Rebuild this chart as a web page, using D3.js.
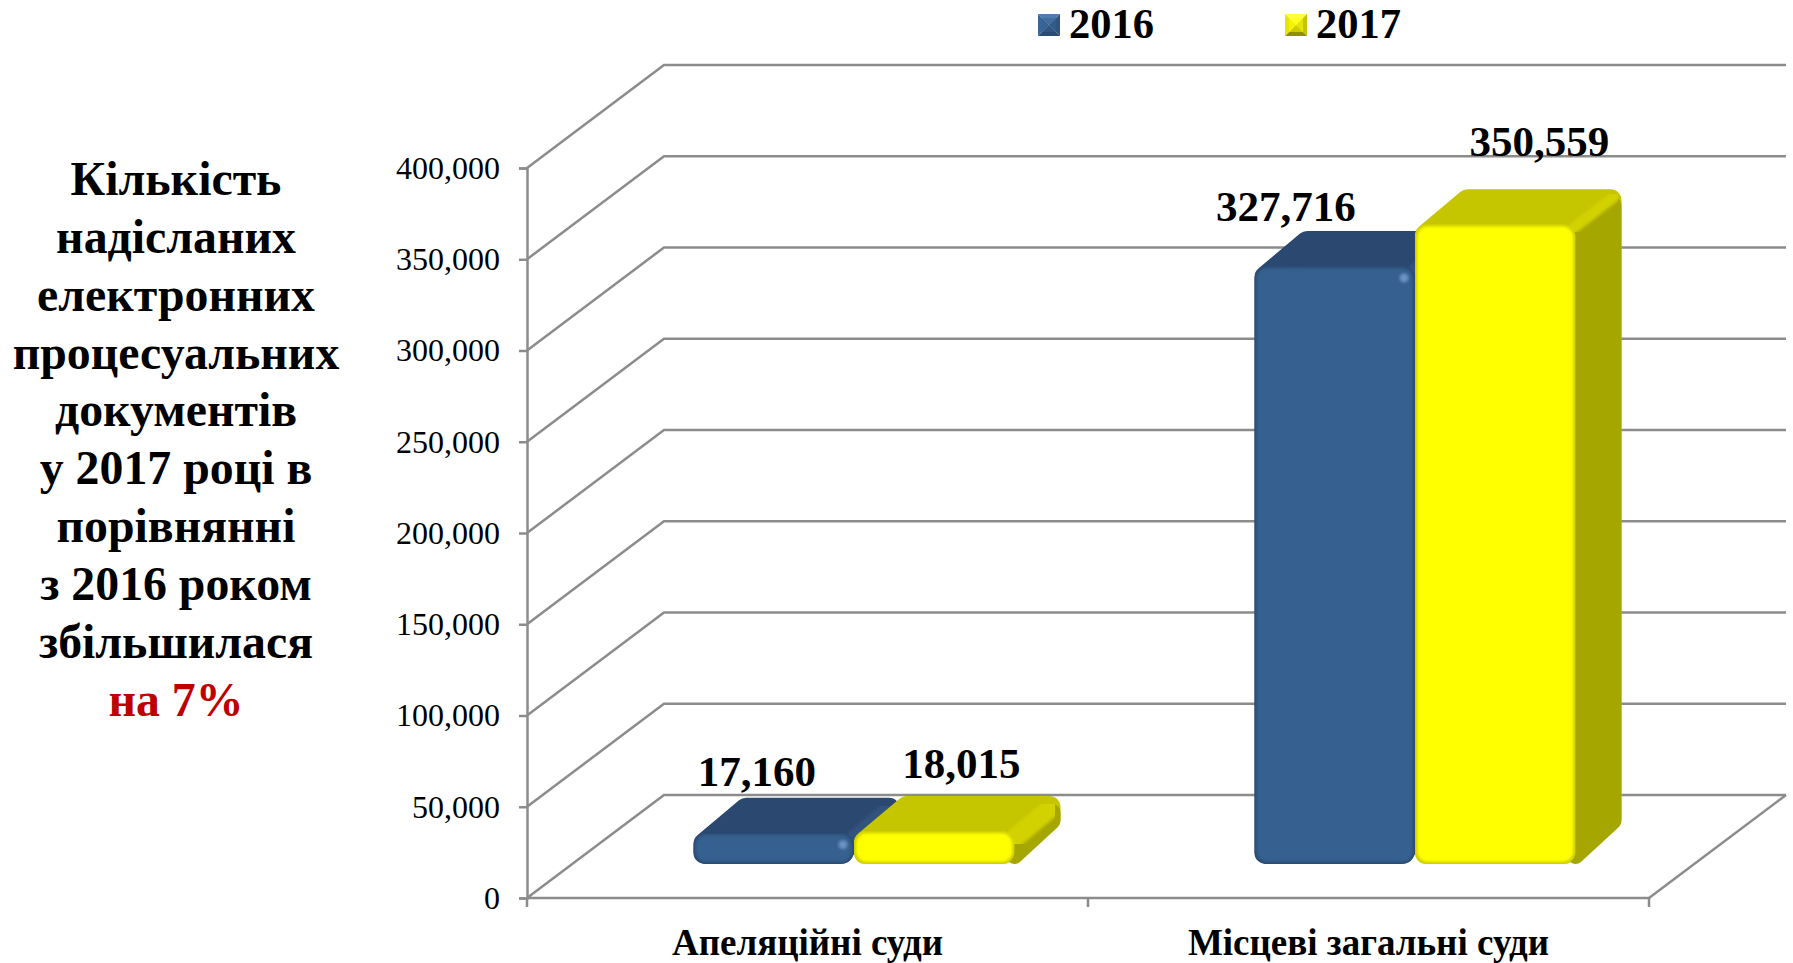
<!DOCTYPE html>
<html><head><meta charset="utf-8">
<script src="https://d3js.org/d3.v7.min.js"></script>
<style>html,body{margin:0;padding:0;background:#fff;overflow:hidden}svg{display:block}text{font-family:"Liberation Serif",serif}</style>
</head><body><svg id="c" width="1793" height="963"></svg>
<script>
const categories = ["Апеляційні суди", "Місцеві загальні суди"];
const seriesNames = ["2016", "2017"];
const values2016 = [17160, 327716];
const values2017 = [18015, 350559];
const yTicks = [0, 50000, 100000, 150000, 200000, 250000, 300000, 350000, 400000];
const titleLines = ["Кількість", "надісланих", "електронних", "процесуальних", "документів", "у 2017 році в", "порівнянні", "з 2016 роком", "збільшилася"];
const titleAccent = "на 7%";

const svg = d3.select("#c");
const defs = svg.append("defs");
const f = defs.append("filter").attr("id","soft").attr("x","-10%").attr("y","-10%").attr("width","120%").attr("height","120%");
f.append("feGaussianBlur").attr("stdDeviation",1.6);

const axisX0 = 527, axisX1 = 1649, y0px = 898, y400 = 168;
const backDX = 137, backDY = -103;
const x = d3.scaleBand().domain(categories).range([axisX0, axisX1]);
const y = d3.scaleLinear().domain([0, 400000]).range([y0px, y400]);
const gridCol = "#8c8c8c", gridW = 2.5;

// walls
const grid = svg.append("g").attr("fill","none").attr("stroke",gridCol).attr("stroke-width",gridW);
yTicks.forEach(t => {
  const p = y(t);
  grid.append("path").attr("d", d3.line()([[axisX0,p],[axisX0+backDX,p+backDY],[axisX1+backDX,p+backDY]]));
});
grid.append("path").attr("d", d3.line()([[axisX0,y0px],[axisX1,y0px],[axisX1+backDX,y0px+backDY]]));

// axes
const axL = svg.append("g").attr("transform",`translate(${axisX0},0)`)
  .call(d3.axisLeft(y).tickValues(yTicks).tickFormat(d3.format(",")).tickSize(8).tickPadding(19));
axL.selectAll("path,line").attr("stroke",gridCol).attr("stroke-width",gridW);
axL.selectAll("text").attr("font-size",32).attr("fill","#000").style("font-family",'"Liberation Serif",serif');
const axB = svg.append("g").attr("transform",`translate(0,${y0px})`)
  .call(d3.axisBottom(x).tickSize(0).tickPadding(0));
axB.select(".domain").remove();
axB.selectAll("line").remove();
axB.selectAll("text").attr("dy",0).attr("y",57).attr("font-size",37).attr("font-weight","bold").attr("fill","#000").style("font-family",'"Liberation Serif",serif');
// category boundary ticks
svg.append("g").selectAll("line").data([0,1,2]).join("line")
  .attr("x1",i=>axisX0+i*x.step()).attr("x2",i=>axisX0+i*x.step())
  .attr("y1",y0px).attr("y2",y0px+9).attr("stroke",gridCol).attr("stroke-width",gridW);

// bars
const floorDX = 46.5, floorDY = -34, depthDX = 46, depthDY = -35, barW = 160.5, r = 11;
const palette = [
  {front:"#36608f", top:"#2b4870", side:"#2b4870", bevel:"#30527e", edge:"#203a58", light:"#41709f", hi:"#6a94c4"},
  {front:"#ffff00", top:"#c5c500", side:"#a6a600", bevel:"#d2d200", edge:"#b5b500", light:"#ffff00", hi:"#ffff30"}
];
const barsG = svg.append("g");
let uid = 0;
function drawBar(cat, s, v) {
  const c = palette[s];
  const cx = x(cat) + x.bandwidth()/2 + floorDX;
  const x0 = cx + (s-1)*barW, x1 = x0 + barW;
  const yb = y(0) + floorDY, yt = yb - (y(0) - y(v));
  const g = barsG.append("g");
  const dx = depthDX, dy = depthDY;
  const lift = s === 0 ? 6 : 0;
  const low = yb - yt < 50;
  // silhouette of the top + side
  const sil = [[x0+r,yt+r],[x0+dx+r*.6,yt+dy+r],[x1+dx-r,yt+dy+r],[x1+dx-r,yb+dy-r],[x1-r,yb-r-lift],[x0+r,yb-r]];
  g.append("path").attr("d", d3.line()(sil)+"Z").attr("fill",c.top).attr("stroke",c.top).attr("stroke-width",2*r).attr("stroke-linejoin","round");
  // side face
  const a = 8;
  g.append("path").attr("d", d3.line()([[x1,yt+a+6],[x1+dx-a,yt+dy+a+8],[x1+dx-a,yb+dy-a],[x1,yb-a-lift*1.6]])+"Z")
    .attr("fill",c.side).attr("stroke",c.side).attr("stroke-width",2*a).attr("stroke-linejoin","round");
  // bevel running along the top-right edge
  g.append("path").attr("d", d3.line()([[x1-2,yt+(low?9:4)],[x1+dx-(low?10:8),yt+dy+(low?12:8)]])).attr("stroke",c.bevel).attr("stroke-width",low?19:11).attr("stroke-linecap","round").attr("fill","none").attr("filter","url(#soft)");
  // front face
  const id = "clip"+(uid++);
  defs.append("clipPath").attr("id",id).append("rect").attr("x",x0).attr("y",yt).attr("width",barW).attr("height",yb-yt).attr("rx",r+2);
  const fr = g.append("g").attr("clip-path",`url(#${id})`);
  fr.append("rect").attr("x",x0).attr("y",yt).attr("width",barW).attr("height",yb-yt).attr("fill",c.front);
  // soft edges
  fr.append("rect").attr("x",x0).attr("y",yt).attr("width",barW).attr("height",yb-yt).attr("rx",r+2)
    .attr("fill","none").attr("stroke",c.edge).attr("stroke-opacity",.75).attr("stroke-width",s?4:3).attr("filter","url(#soft)");
  if (s===0) {
    fr.append("path").attr("d",d3.line()([[x0+8,yt+9],[x1-8,yt+9]])).attr("stroke",c.light).attr("stroke-width",7).attr("filter","url(#soft)");
    fr.append("path").attr("d",d3.line()([[x1-11,yt+9],[x1-11,yb-8]])).attr("stroke",c.light).attr("stroke-width",7).attr("filter","url(#soft)");
    fr.append("circle").attr("cx",x1-11).attr("cy",yt+12).attr("r",4.5).attr("fill",c.hi).attr("filter","url(#soft)");
  }
}
categories.forEach((cat,i) => { drawBar(cat,0,values2016[i]); drawBar(cat,1,values2017[i]); });

// value labels (hand-placed in the original, offset from their bar)
const labelOffsets = [[[-17,-47],[27,-53]],[[-49,-45],[44,-68]]];
categories.forEach((cat,i) => {
  [values2016[i],values2017[i]].forEach((v,s) => {
    const cx = x(cat)+x.bandwidth()/2+floorDX+(s-0.5)*barW;
    const top = y(0)+floorDY-(y(0)-y(v));
    svg.append("text").attr("x",cx+labelOffsets[i][s][0]).attr("y",top+labelOffsets[i][s][1])
      .attr("text-anchor","middle").attr("font-size",43).attr("font-weight","bold").attr("fill","#000")
      .text(d3.format(",")(v));
  });
});

// legend
const legX = [1038, 1285];
seriesNames.forEach((n,i) => {
  const g = svg.append("g").attr("transform",`translate(${legX[i]},14)`);
  const S = 22;
  const shades = i===0 ? ["#4f7cb0","#2f5481","#2a4a72","#3a6596"] : ["#ffff40","#c4c400","#8f8f00","#e6e600"];
  const C=[S/2,S/2];
  [[[0,0],[S,0],C],[[S,0],[S,S],C],[[S,S],[0,S],C],[[0,S],[0,0],C]].forEach((tri,k)=>{
    g.append("path").attr("d",d3.line()(tri)+"Z").attr("fill",shades[k]);
  });
  g.append("rect").attr("x",4).attr("y",4).attr("width",S-8).attr("height",S-8).attr("fill",i===0?"#36608f":"#ffff00").attr("opacity",.55);
  svg.append("text").attr("x",legX[i]+31).attr("y",38).attr("font-size",42.5).attr("font-weight","bold").attr("fill","#000").text(n);
});

// title block
const tX = 176, tY = 195, tS = 57.85;
svg.append("g").attr("text-anchor","middle").attr("font-weight","bold").attr("font-size",47.8)
  .selectAll("text").data(titleLines.concat([titleAccent])).join("text")
  .attr("x",tX).attr("y",(d,i)=>tY+i*tS).attr("fill",d=>d===titleAccent?"#c00000":"#000").text(d=>d);
</script></body></html>
